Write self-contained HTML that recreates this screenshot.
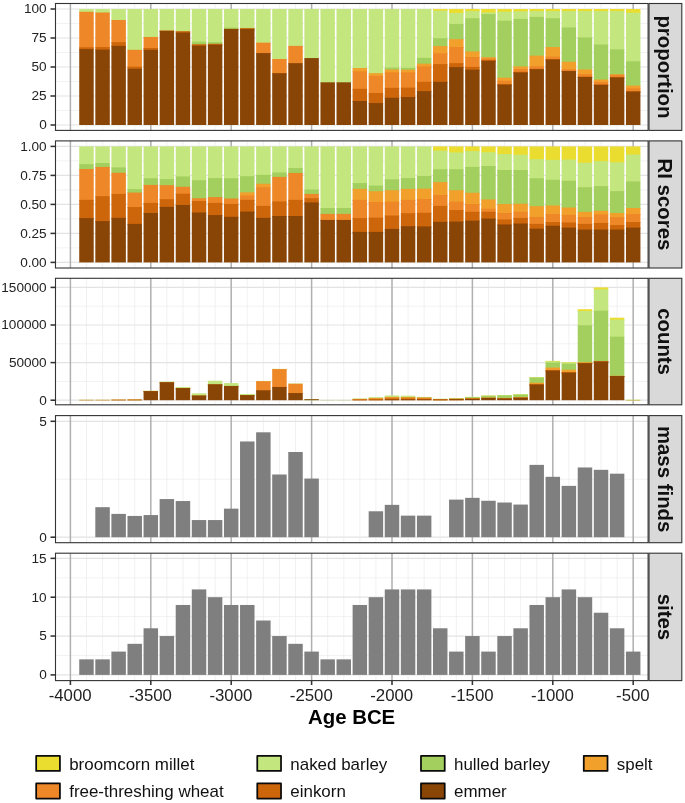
<!DOCTYPE html>
<html><head><meta charset="utf-8"><title>chart</title>
<style>html,body{margin:0;padding:0;background:#fff}body{width:685px;height:803px;overflow:hidden;position:relative}svg{position:absolute;left:0;top:0;will-change:transform;opacity:0.999}</style></head>
<body>
<svg width="685" height="803" viewBox="0 0 685 803" style="display:block;font-family:'Liberation Sans',sans-serif">
<rect width="685" height="803" fill="#fff"/>
<g><path d="M55.5 110.5H648.1" stroke="#EDEDED" stroke-width="0.7"/><path d="M55.5 81.5H648.1" stroke="#EDEDED" stroke-width="0.7"/><path d="M55.5 52.5H648.1" stroke="#EDEDED" stroke-width="0.7"/><path d="M55.5 23.5H648.1" stroke="#EDEDED" stroke-width="0.7"/><path d="M86.48 3.5V130.4" stroke="#EBEBEB" stroke-width="0.7"/><path d="M102.56 3.5V130.4" stroke="#EBEBEB" stroke-width="0.7"/><path d="M118.64 3.5V130.4" stroke="#EBEBEB" stroke-width="0.7"/><path d="M134.72 3.5V130.4" stroke="#EBEBEB" stroke-width="0.7"/><path d="M150.8 3.5V130.4" stroke="#EBEBEB" stroke-width="0.7"/><path d="M166.88 3.5V130.4" stroke="#EBEBEB" stroke-width="0.7"/><path d="M182.96 3.5V130.4" stroke="#EBEBEB" stroke-width="0.7"/><path d="M199.04 3.5V130.4" stroke="#EBEBEB" stroke-width="0.7"/><path d="M215.12 3.5V130.4" stroke="#EBEBEB" stroke-width="0.7"/><path d="M231.2 3.5V130.4" stroke="#EBEBEB" stroke-width="0.7"/><path d="M247.28 3.5V130.4" stroke="#EBEBEB" stroke-width="0.7"/><path d="M263.36 3.5V130.4" stroke="#EBEBEB" stroke-width="0.7"/><path d="M279.44 3.5V130.4" stroke="#EBEBEB" stroke-width="0.7"/><path d="M295.52 3.5V130.4" stroke="#EBEBEB" stroke-width="0.7"/><path d="M311.6 3.5V130.4" stroke="#EBEBEB" stroke-width="0.7"/><path d="M327.68 3.5V130.4" stroke="#EBEBEB" stroke-width="0.7"/><path d="M343.76 3.5V130.4" stroke="#EBEBEB" stroke-width="0.7"/><path d="M359.84 3.5V130.4" stroke="#EBEBEB" stroke-width="0.7"/><path d="M375.92 3.5V130.4" stroke="#EBEBEB" stroke-width="0.7"/><path d="M392 3.5V130.4" stroke="#EBEBEB" stroke-width="0.7"/><path d="M408.08 3.5V130.4" stroke="#EBEBEB" stroke-width="0.7"/><path d="M424.16 3.5V130.4" stroke="#EBEBEB" stroke-width="0.7"/><path d="M440.24 3.5V130.4" stroke="#EBEBEB" stroke-width="0.7"/><path d="M456.32 3.5V130.4" stroke="#EBEBEB" stroke-width="0.7"/><path d="M472.4 3.5V130.4" stroke="#EBEBEB" stroke-width="0.7"/><path d="M488.48 3.5V130.4" stroke="#EBEBEB" stroke-width="0.7"/><path d="M504.56 3.5V130.4" stroke="#EBEBEB" stroke-width="0.7"/><path d="M520.64 3.5V130.4" stroke="#EBEBEB" stroke-width="0.7"/><path d="M536.72 3.5V130.4" stroke="#EBEBEB" stroke-width="0.7"/><path d="M552.8 3.5V130.4" stroke="#EBEBEB" stroke-width="0.7"/><path d="M568.88 3.5V130.4" stroke="#EBEBEB" stroke-width="0.7"/><path d="M584.96 3.5V130.4" stroke="#EBEBEB" stroke-width="0.7"/><path d="M601.04 3.5V130.4" stroke="#EBEBEB" stroke-width="0.7"/><path d="M617.12 3.5V130.4" stroke="#EBEBEB" stroke-width="0.7"/><path d="M633.2 3.5V130.4" stroke="#EBEBEB" stroke-width="0.7"/><path d="M55.5 125H648.1" stroke="#E3E3E3" stroke-width="1.2"/><path d="M55.5 96H648.1" stroke="#E3E3E3" stroke-width="1.2"/><path d="M55.5 67H648.1" stroke="#E3E3E3" stroke-width="1.2"/><path d="M55.5 38H648.1" stroke="#E3E3E3" stroke-width="1.2"/><path d="M55.5 9H648.1" stroke="#E3E3E3" stroke-width="1.2"/><path d="M70.4 3.5V130.4" stroke="#B0B0B0" stroke-width="1.5"/><path d="M150.8 3.5V130.4" stroke="#B0B0B0" stroke-width="1.5"/><path d="M231.2 3.5V130.4" stroke="#B0B0B0" stroke-width="1.5"/><path d="M311.6 3.5V130.4" stroke="#B0B0B0" stroke-width="1.5"/><path d="M392 3.5V130.4" stroke="#B0B0B0" stroke-width="1.5"/><path d="M472.4 3.5V130.4" stroke="#B0B0B0" stroke-width="1.5"/><path d="M552.8 3.5V130.4" stroke="#B0B0B0" stroke-width="1.5"/><path d="M633.2 3.5V130.4" stroke="#B0B0B0" stroke-width="1.5"/></g>
<g shape-rendering="auto"><rect x="79.24" y="9" width="14.47" height="3.78" fill="#C4E67E"/><rect x="79.24" y="11.78" width="14.47" height="36.5" fill="#EE8727"/><rect x="79.24" y="47.28" width="14.47" height="2.86" fill="#CD660B"/><rect x="79.24" y="49.14" width="14.47" height="75.86" fill="#894506"/><rect x="95.32" y="9" width="14.47" height="4.48" fill="#C4E67E"/><rect x="95.32" y="12.48" width="14.47" height="35.57" fill="#EE8727"/><rect x="95.32" y="47.05" width="14.47" height="3.55" fill="#CD660B"/><rect x="95.32" y="49.6" width="14.47" height="75.4" fill="#894506"/><rect x="111.4" y="9" width="14.47" height="12.02" fill="#C4E67E"/><rect x="111.4" y="20.02" width="14.47" height="23.16" fill="#EE8727"/><rect x="111.4" y="42.18" width="14.47" height="4.71" fill="#CD660B"/><rect x="111.4" y="45.89" width="14.47" height="79.11" fill="#894506"/><rect x="127.48" y="9" width="14.47" height="41.83" fill="#C4E67E"/><rect x="127.48" y="49.83" width="14.47" height="17.82" fill="#EE8727"/><rect x="127.48" y="66.65" width="14.47" height="3.09" fill="#CD660B"/><rect x="127.48" y="68.74" width="14.47" height="56.26" fill="#894506"/><rect x="143.56" y="9" width="14.47" height="28.96" fill="#C4E67E"/><rect x="143.56" y="36.96" width="14.47" height="12.02" fill="#EE8727"/><rect x="143.56" y="47.98" width="14.47" height="2.86" fill="#CD660B"/><rect x="143.56" y="49.83" width="14.47" height="75.17" fill="#894506"/><rect x="159.64" y="9" width="14.47" height="22.46" fill="#C4E67E"/><rect x="159.64" y="30.46" width="14.47" height="1.46" fill="#CD660B"/><rect x="159.64" y="30.92" width="14.47" height="94.08" fill="#894506"/><rect x="175.72" y="9" width="14.47" height="23.16" fill="#C4E67E"/><rect x="175.72" y="31.16" width="14.47" height="2.39" fill="#CD660B"/><rect x="175.72" y="32.55" width="14.47" height="92.45" fill="#894506"/><rect x="191.8" y="9" width="14.47" height="33.71" fill="#C4E67E"/><rect x="191.8" y="41.71" width="14.47" height="3.55" fill="#A2CF5E"/><rect x="191.8" y="44.26" width="14.47" height="2.39" fill="#CD660B"/><rect x="191.8" y="45.66" width="14.47" height="79.34" fill="#894506"/><rect x="207.88" y="9" width="14.47" height="34.18" fill="#C4E67E"/><rect x="207.88" y="42.18" width="14.47" height="2.62" fill="#A2CF5E"/><rect x="207.88" y="43.8" width="14.47" height="1.93" fill="#CD660B"/><rect x="207.88" y="44.73" width="14.47" height="80.27" fill="#894506"/><rect x="223.96" y="9" width="14.47" height="19.68" fill="#C4E67E"/><rect x="223.96" y="27.68" width="14.47" height="2.16" fill="#A2CF5E"/><rect x="223.96" y="28.84" width="14.47" height="1.23" fill="#CD660B"/><rect x="223.96" y="29.07" width="14.47" height="95.93" fill="#894506"/><rect x="240.04" y="9" width="14.47" height="19.91" fill="#C4E67E"/><rect x="240.04" y="27.91" width="14.47" height="1.23" fill="#A2CF5E"/><rect x="240.04" y="28.14" width="14.47" height="1.93" fill="#CD660B"/><rect x="240.04" y="29.07" width="14.47" height="95.93" fill="#894506"/><rect x="256.12" y="9" width="14.47" height="34.64" fill="#C4E67E"/><rect x="256.12" y="42.64" width="14.47" height="11.44" fill="#EE8727"/><rect x="256.12" y="53.08" width="14.47" height="71.92" fill="#894506"/><rect x="272.2" y="9" width="14.47" height="51" fill="#C4E67E"/><rect x="272.2" y="59" width="14.47" height="15.15" fill="#EE8727"/><rect x="272.2" y="73.15" width="14.47" height="51.85" fill="#894506"/><rect x="288.28" y="9" width="14.47" height="37.89" fill="#C4E67E"/><rect x="288.28" y="45.89" width="14.47" height="18.28" fill="#EE8727"/><rect x="288.28" y="63.17" width="14.47" height="61.83" fill="#894506"/><rect x="304.36" y="9" width="14.47" height="50.07" fill="#C4E67E"/><rect x="304.36" y="58.07" width="14.47" height="66.93" fill="#894506"/><rect x="320.44" y="9" width="14.47" height="74.31" fill="#C4E67E"/><rect x="320.44" y="82.31" width="14.47" height="42.69" fill="#894506"/><rect x="336.52" y="9" width="14.47" height="74.31" fill="#C4E67E"/><rect x="336.52" y="82.31" width="14.47" height="42.69" fill="#894506"/><rect x="352.6" y="9" width="14.47" height="60.04" fill="#C4E67E"/><rect x="352.6" y="68.04" width="14.47" height="4.25" fill="#F2A02C"/><rect x="352.6" y="71.29" width="14.47" height="18.52" fill="#EE8727"/><rect x="352.6" y="88.81" width="14.47" height="13.18" fill="#CD660B"/><rect x="352.6" y="100.99" width="14.47" height="24.01" fill="#894506"/><rect x="368.68" y="9" width="14.47" height="65.15" fill="#C4E67E"/><rect x="368.68" y="73.15" width="14.47" height="3.78" fill="#F2A02C"/><rect x="368.68" y="75.93" width="14.47" height="18.05" fill="#EE8727"/><rect x="368.68" y="92.98" width="14.47" height="11.09" fill="#CD660B"/><rect x="368.68" y="103.08" width="14.47" height="21.92" fill="#894506"/><rect x="384.76" y="9" width="14.47" height="59.58" fill="#C4E67E"/><rect x="384.76" y="67.58" width="14.47" height="2.86" fill="#A2CF5E"/><rect x="384.76" y="69.44" width="14.47" height="4.02" fill="#F2A02C"/><rect x="384.76" y="72.45" width="14.47" height="16.43" fill="#EE8727"/><rect x="384.76" y="87.88" width="14.47" height="10.86" fill="#CD660B"/><rect x="384.76" y="97.74" width="14.47" height="27.26" fill="#894506"/><rect x="400.84" y="9" width="14.47" height="59.81" fill="#C4E67E"/><rect x="400.84" y="67.81" width="14.47" height="2.86" fill="#A2CF5E"/><rect x="400.84" y="69.67" width="14.47" height="3.78" fill="#F2A02C"/><rect x="400.84" y="72.45" width="14.47" height="16.2" fill="#EE8727"/><rect x="400.84" y="87.65" width="14.47" height="10.4" fill="#CD660B"/><rect x="400.84" y="97.04" width="14.47" height="27.96" fill="#894506"/><rect x="416.92" y="9" width="14.47" height="49.84" fill="#C4E67E"/><rect x="416.92" y="57.84" width="14.47" height="6.8" fill="#A2CF5E"/><rect x="416.92" y="63.64" width="14.47" height="3.78" fill="#F2A02C"/><rect x="416.92" y="66.42" width="14.47" height="16.43" fill="#EE8727"/><rect x="416.92" y="81.85" width="14.47" height="10.28" fill="#CD660B"/><rect x="416.92" y="91.13" width="14.47" height="33.87" fill="#894506"/><rect x="433" y="9" width="14.47" height="2.62" fill="#EBDD30"/><rect x="433" y="10.62" width="14.47" height="28.61" fill="#C4E67E"/><rect x="433" y="38.23" width="14.47" height="8.89" fill="#A2CF5E"/><rect x="433" y="46.12" width="14.47" height="8.19" fill="#F2A02C"/><rect x="433" y="53.31" width="14.47" height="11.79" fill="#EE8727"/><rect x="433" y="64.1" width="14.47" height="18.75" fill="#CD660B"/><rect x="433" y="81.85" width="14.47" height="43.15" fill="#894506"/><rect x="449.08" y="9" width="14.47" height="4.94" fill="#EBDD30"/><rect x="449.08" y="12.94" width="14.47" height="12.02" fill="#C4E67E"/><rect x="449.08" y="23.96" width="14.47" height="16.2" fill="#A2CF5E"/><rect x="449.08" y="39.16" width="14.47" height="8.89" fill="#F2A02C"/><rect x="449.08" y="47.05" width="14.47" height="17.12" fill="#EE8727"/><rect x="449.08" y="63.17" width="14.47" height="4.94" fill="#CD660B"/><rect x="449.08" y="67.12" width="14.47" height="57.88" fill="#894506"/><rect x="465.16" y="9" width="14.47" height="3.09" fill="#EBDD30"/><rect x="465.16" y="11.09" width="14.47" height="8.19" fill="#C4E67E"/><rect x="465.16" y="18.28" width="14.47" height="34.18" fill="#A2CF5E"/><rect x="465.16" y="51.46" width="14.47" height="6.57" fill="#F2A02C"/><rect x="465.16" y="57.02" width="14.47" height="10.86" fill="#EE8727"/><rect x="465.16" y="66.88" width="14.47" height="3.78" fill="#CD660B"/><rect x="465.16" y="69.67" width="14.47" height="55.33" fill="#894506"/><rect x="481.24" y="9" width="14.47" height="4.48" fill="#EBDD30"/><rect x="481.24" y="12.48" width="14.47" height="2.62" fill="#C4E67E"/><rect x="481.24" y="14.1" width="14.47" height="44.15" fill="#A2CF5E"/><rect x="481.24" y="57.26" width="14.47" height="2.28" fill="#F2A02C"/><rect x="481.24" y="58.53" width="14.47" height="2.39" fill="#EE8727"/><rect x="481.24" y="59.92" width="14.47" height="1.93" fill="#CD660B"/><rect x="481.24" y="60.85" width="14.47" height="64.15" fill="#894506"/><rect x="497.32" y="9" width="14.47" height="3.78" fill="#EBDD30"/><rect x="497.32" y="11.78" width="14.47" height="9.93" fill="#C4E67E"/><rect x="497.32" y="20.72" width="14.47" height="57.96" fill="#A2CF5E"/><rect x="497.32" y="77.67" width="14.47" height="4.02" fill="#F2A02C"/><rect x="497.32" y="80.69" width="14.47" height="4.25" fill="#EE8727"/><rect x="497.32" y="83.94" width="14.47" height="1.7" fill="#CD660B"/><rect x="497.32" y="84.63" width="14.47" height="40.37" fill="#894506"/><rect x="513.4" y="9" width="14.47" height="3.32" fill="#EBDD30"/><rect x="513.4" y="11.32" width="14.47" height="8.54" fill="#C4E67E"/><rect x="513.4" y="18.86" width="14.47" height="48.56" fill="#A2CF5E"/><rect x="513.4" y="66.42" width="14.47" height="3.55" fill="#F2A02C"/><rect x="513.4" y="68.97" width="14.47" height="3.78" fill="#EE8727"/><rect x="513.4" y="71.76" width="14.47" height="1.7" fill="#CD660B"/><rect x="513.4" y="72.45" width="14.47" height="52.55" fill="#894506"/><rect x="529.48" y="9" width="14.47" height="3.09" fill="#EBDD30"/><rect x="529.48" y="11.09" width="14.47" height="6.8" fill="#C4E67E"/><rect x="529.48" y="16.89" width="14.47" height="39.74" fill="#A2CF5E"/><rect x="529.48" y="55.63" width="14.47" height="11.56" fill="#F2A02C"/><rect x="529.48" y="66.19" width="14.47" height="3.55" fill="#EE8727"/><rect x="529.48" y="68.74" width="14.47" height="1.46" fill="#CD660B"/><rect x="529.48" y="69.2" width="14.47" height="55.8" fill="#894506"/><rect x="545.56" y="9" width="14.47" height="3.09" fill="#EBDD30"/><rect x="545.56" y="11.09" width="14.47" height="8.19" fill="#C4E67E"/><rect x="545.56" y="18.28" width="14.47" height="29.77" fill="#A2CF5E"/><rect x="545.56" y="47.05" width="14.47" height="10.51" fill="#F2A02C"/><rect x="545.56" y="56.56" width="14.47" height="3.44" fill="#EE8727"/><rect x="545.56" y="59" width="14.47" height="1.46" fill="#CD660B"/><rect x="545.56" y="59.46" width="14.47" height="65.54" fill="#894506"/><rect x="561.64" y="9" width="14.47" height="3.09" fill="#EBDD30"/><rect x="561.64" y="11.09" width="14.47" height="17.36" fill="#C4E67E"/><rect x="561.64" y="27.44" width="14.47" height="35.34" fill="#A2CF5E"/><rect x="561.64" y="61.78" width="14.47" height="8.42" fill="#F2A02C"/><rect x="561.64" y="69.2" width="14.47" height="2.62" fill="#EE8727"/><rect x="561.64" y="70.83" width="14.47" height="1.23" fill="#CD660B"/><rect x="561.64" y="71.06" width="14.47" height="53.94" fill="#894506"/><rect x="577.72" y="9" width="14.47" height="3.09" fill="#EBDD30"/><rect x="577.72" y="11.09" width="14.47" height="27.33" fill="#C4E67E"/><rect x="577.72" y="37.42" width="14.47" height="33.02" fill="#A2CF5E"/><rect x="577.72" y="69.44" width="14.47" height="5.64" fill="#F2A02C"/><rect x="577.72" y="74.08" width="14.47" height="3.44" fill="#EE8727"/><rect x="577.72" y="76.51" width="14.47" height="1.46" fill="#CD660B"/><rect x="577.72" y="76.98" width="14.47" height="48.02" fill="#894506"/><rect x="593.8" y="9" width="14.47" height="3.09" fill="#EBDD30"/><rect x="593.8" y="11.09" width="14.47" height="34.41" fill="#C4E67E"/><rect x="593.8" y="44.5" width="14.47" height="36.03" fill="#A2CF5E"/><rect x="593.8" y="79.53" width="14.47" height="3.32" fill="#F2A02C"/><rect x="593.8" y="81.85" width="14.47" height="3.55" fill="#EE8727"/><rect x="593.8" y="84.4" width="14.47" height="1.46" fill="#CD660B"/><rect x="593.8" y="84.86" width="14.47" height="40.14" fill="#894506"/><rect x="609.88" y="9" width="14.47" height="3.09" fill="#EBDD30"/><rect x="609.88" y="11.09" width="14.47" height="39.28" fill="#C4E67E"/><rect x="609.88" y="49.37" width="14.47" height="25.94" fill="#A2CF5E"/><rect x="609.88" y="74.31" width="14.47" height="1.46" fill="#F2A02C"/><rect x="609.88" y="74.77" width="14.47" height="3.2" fill="#EE8727"/><rect x="609.88" y="76.98" width="14.47" height="1.46" fill="#CD660B"/><rect x="609.88" y="77.44" width="14.47" height="47.56" fill="#894506"/><rect x="625.96" y="9" width="14.47" height="4.71" fill="#EBDD30"/><rect x="625.96" y="12.71" width="14.47" height="49.6" fill="#C4E67E"/><rect x="625.96" y="61.32" width="14.47" height="25.24" fill="#A2CF5E"/><rect x="625.96" y="85.56" width="14.47" height="3.78" fill="#F2A02C"/><rect x="625.96" y="88.34" width="14.47" height="3.78" fill="#EE8727"/><rect x="625.96" y="91.13" width="14.47" height="1.46" fill="#CD660B"/><rect x="625.96" y="91.59" width="14.47" height="33.41" fill="#894506"/></g>
<rect x="55.5" y="3.5" width="592.6" height="126.9" fill="none" stroke="#333" stroke-width="1.1"/>
<path d="M50.5 125H55.5" stroke="#333" stroke-width="1.55"/>
<text x="46.7" y="129.3" font-size="13.6" fill="#222" text-anchor="end">0</text>
<path d="M50.5 96H55.5" stroke="#333" stroke-width="1.55"/>
<text x="46.7" y="100.3" font-size="13.6" fill="#222" text-anchor="end">25</text>
<path d="M50.5 67H55.5" stroke="#333" stroke-width="1.55"/>
<text x="46.7" y="71.3" font-size="13.6" fill="#222" text-anchor="end">50</text>
<path d="M50.5 38H55.5" stroke="#333" stroke-width="1.55"/>
<text x="46.7" y="42.3" font-size="13.6" fill="#222" text-anchor="end">75</text>
<path d="M50.5 9H55.5" stroke="#333" stroke-width="1.55"/>
<text x="46.7" y="13.3" font-size="13.6" fill="#222" text-anchor="end">100</text>
<rect x="649" y="3.5" width="32.8" height="126.9" fill="#D9D9D9" stroke="#333" stroke-width="1.1"/>
<text transform="translate(658.0 66.95) rotate(90)" font-size="20.4" font-weight="bold" fill="#111" text-anchor="middle">proportion</text>
<g><path d="M55.5 247.9H648.1" stroke="#EDEDED" stroke-width="0.7"/><path d="M55.5 218.9H648.1" stroke="#EDEDED" stroke-width="0.7"/><path d="M55.5 189.9H648.1" stroke="#EDEDED" stroke-width="0.7"/><path d="M55.5 160.9H648.1" stroke="#EDEDED" stroke-width="0.7"/><path d="M86.48 140.9V268" stroke="#EBEBEB" stroke-width="0.7"/><path d="M102.56 140.9V268" stroke="#EBEBEB" stroke-width="0.7"/><path d="M118.64 140.9V268" stroke="#EBEBEB" stroke-width="0.7"/><path d="M134.72 140.9V268" stroke="#EBEBEB" stroke-width="0.7"/><path d="M150.8 140.9V268" stroke="#EBEBEB" stroke-width="0.7"/><path d="M166.88 140.9V268" stroke="#EBEBEB" stroke-width="0.7"/><path d="M182.96 140.9V268" stroke="#EBEBEB" stroke-width="0.7"/><path d="M199.04 140.9V268" stroke="#EBEBEB" stroke-width="0.7"/><path d="M215.12 140.9V268" stroke="#EBEBEB" stroke-width="0.7"/><path d="M231.2 140.9V268" stroke="#EBEBEB" stroke-width="0.7"/><path d="M247.28 140.9V268" stroke="#EBEBEB" stroke-width="0.7"/><path d="M263.36 140.9V268" stroke="#EBEBEB" stroke-width="0.7"/><path d="M279.44 140.9V268" stroke="#EBEBEB" stroke-width="0.7"/><path d="M295.52 140.9V268" stroke="#EBEBEB" stroke-width="0.7"/><path d="M311.6 140.9V268" stroke="#EBEBEB" stroke-width="0.7"/><path d="M327.68 140.9V268" stroke="#EBEBEB" stroke-width="0.7"/><path d="M343.76 140.9V268" stroke="#EBEBEB" stroke-width="0.7"/><path d="M359.84 140.9V268" stroke="#EBEBEB" stroke-width="0.7"/><path d="M375.92 140.9V268" stroke="#EBEBEB" stroke-width="0.7"/><path d="M392 140.9V268" stroke="#EBEBEB" stroke-width="0.7"/><path d="M408.08 140.9V268" stroke="#EBEBEB" stroke-width="0.7"/><path d="M424.16 140.9V268" stroke="#EBEBEB" stroke-width="0.7"/><path d="M440.24 140.9V268" stroke="#EBEBEB" stroke-width="0.7"/><path d="M456.32 140.9V268" stroke="#EBEBEB" stroke-width="0.7"/><path d="M472.4 140.9V268" stroke="#EBEBEB" stroke-width="0.7"/><path d="M488.48 140.9V268" stroke="#EBEBEB" stroke-width="0.7"/><path d="M504.56 140.9V268" stroke="#EBEBEB" stroke-width="0.7"/><path d="M520.64 140.9V268" stroke="#EBEBEB" stroke-width="0.7"/><path d="M536.72 140.9V268" stroke="#EBEBEB" stroke-width="0.7"/><path d="M552.8 140.9V268" stroke="#EBEBEB" stroke-width="0.7"/><path d="M568.88 140.9V268" stroke="#EBEBEB" stroke-width="0.7"/><path d="M584.96 140.9V268" stroke="#EBEBEB" stroke-width="0.7"/><path d="M601.04 140.9V268" stroke="#EBEBEB" stroke-width="0.7"/><path d="M617.12 140.9V268" stroke="#EBEBEB" stroke-width="0.7"/><path d="M633.2 140.9V268" stroke="#EBEBEB" stroke-width="0.7"/><path d="M55.5 262.4H648.1" stroke="#E3E3E3" stroke-width="1.2"/><path d="M55.5 233.4H648.1" stroke="#E3E3E3" stroke-width="1.2"/><path d="M55.5 204.4H648.1" stroke="#E3E3E3" stroke-width="1.2"/><path d="M55.5 175.4H648.1" stroke="#E3E3E3" stroke-width="1.2"/><path d="M55.5 146.4H648.1" stroke="#E3E3E3" stroke-width="1.2"/><path d="M70.4 140.9V268" stroke="#B0B0B0" stroke-width="1.5"/><path d="M150.8 140.9V268" stroke="#B0B0B0" stroke-width="1.5"/><path d="M231.2 140.9V268" stroke="#B0B0B0" stroke-width="1.5"/><path d="M311.6 140.9V268" stroke="#B0B0B0" stroke-width="1.5"/><path d="M392 140.9V268" stroke="#B0B0B0" stroke-width="1.5"/><path d="M472.4 140.9V268" stroke="#B0B0B0" stroke-width="1.5"/><path d="M552.8 140.9V268" stroke="#B0B0B0" stroke-width="1.5"/><path d="M633.2 140.9V268" stroke="#B0B0B0" stroke-width="1.5"/></g>
<g shape-rendering="auto"><rect x="79.24" y="146.4" width="14.47" height="18.75" fill="#C4E67E"/><rect x="79.24" y="164.15" width="14.47" height="5.87" fill="#A2CF5E"/><rect x="79.24" y="169.02" width="14.47" height="31.86" fill="#EE8727"/><rect x="79.24" y="199.88" width="14.47" height="19.21" fill="#CD660B"/><rect x="79.24" y="218.09" width="14.47" height="44.31" fill="#894506"/><rect x="95.32" y="146.4" width="14.47" height="17.59" fill="#C4E67E"/><rect x="95.32" y="162.99" width="14.47" height="4.94" fill="#A2CF5E"/><rect x="95.32" y="166.93" width="14.47" height="30.23" fill="#EE8727"/><rect x="95.32" y="196.16" width="14.47" height="25.94" fill="#CD660B"/><rect x="95.32" y="221.1" width="14.47" height="41.3" fill="#894506"/><rect x="111.4" y="146.4" width="14.47" height="22" fill="#C4E67E"/><rect x="111.4" y="167.4" width="14.47" height="6.34" fill="#A2CF5E"/><rect x="111.4" y="172.73" width="14.47" height="22.23" fill="#EE8727"/><rect x="111.4" y="193.96" width="14.47" height="24.9" fill="#CD660B"/><rect x="111.4" y="217.86" width="14.47" height="44.54" fill="#894506"/><rect x="127.48" y="146.4" width="14.47" height="43.69" fill="#C4E67E"/><rect x="127.48" y="189.09" width="14.47" height="4.48" fill="#A2CF5E"/><rect x="127.48" y="192.57" width="14.47" height="15.5" fill="#EE8727"/><rect x="127.48" y="207.07" width="14.47" height="17.82" fill="#CD660B"/><rect x="127.48" y="223.89" width="14.47" height="38.51" fill="#894506"/><rect x="143.56" y="146.4" width="14.47" height="32.9" fill="#C4E67E"/><rect x="143.56" y="178.3" width="14.47" height="7.61" fill="#A2CF5E"/><rect x="143.56" y="184.91" width="14.47" height="18.98" fill="#EE8727"/><rect x="143.56" y="202.89" width="14.47" height="11.09" fill="#CD660B"/><rect x="143.56" y="212.98" width="14.47" height="49.42" fill="#894506"/><rect x="159.64" y="146.4" width="14.47" height="33.71" fill="#C4E67E"/><rect x="159.64" y="179.11" width="14.47" height="7.03" fill="#A2CF5E"/><rect x="159.64" y="185.14" width="14.47" height="15.04" fill="#EE8727"/><rect x="159.64" y="199.18" width="14.47" height="8.66" fill="#CD660B"/><rect x="159.64" y="206.84" width="14.47" height="55.56" fill="#894506"/><rect x="175.72" y="146.4" width="14.47" height="31.04" fill="#C4E67E"/><rect x="175.72" y="176.44" width="14.47" height="11.32" fill="#A2CF5E"/><rect x="175.72" y="186.77" width="14.47" height="7.96" fill="#EE8727"/><rect x="175.72" y="193.73" width="14.47" height="12.25" fill="#CD660B"/><rect x="175.72" y="204.98" width="14.47" height="57.42" fill="#894506"/><rect x="191.8" y="146.4" width="14.47" height="34.87" fill="#C4E67E"/><rect x="191.8" y="180.27" width="14.47" height="18.98" fill="#A2CF5E"/><rect x="191.8" y="198.25" width="14.47" height="3.78" fill="#EE8727"/><rect x="191.8" y="201.04" width="14.47" height="12.48" fill="#CD660B"/><rect x="191.8" y="212.52" width="14.47" height="49.88" fill="#894506"/><rect x="207.88" y="146.4" width="14.47" height="32.67" fill="#C4E67E"/><rect x="207.88" y="178.07" width="14.47" height="20.02" fill="#A2CF5E"/><rect x="207.88" y="197.09" width="14.47" height="6.8" fill="#EE8727"/><rect x="207.88" y="202.89" width="14.47" height="13.18" fill="#CD660B"/><rect x="207.88" y="215.07" width="14.47" height="47.33" fill="#894506"/><rect x="223.96" y="146.4" width="14.47" height="32.9" fill="#C4E67E"/><rect x="223.96" y="178.3" width="14.47" height="21.18" fill="#A2CF5E"/><rect x="223.96" y="198.48" width="14.47" height="6.45" fill="#EE8727"/><rect x="223.96" y="203.94" width="14.47" height="13.88" fill="#CD660B"/><rect x="223.96" y="216.81" width="14.47" height="45.59" fill="#894506"/><rect x="240.04" y="146.4" width="14.47" height="30.81" fill="#C4E67E"/><rect x="240.04" y="176.21" width="14.47" height="17.12" fill="#A2CF5E"/><rect x="240.04" y="192.34" width="14.47" height="4.13" fill="#F2A02C"/><rect x="240.04" y="195.47" width="14.47" height="5.41" fill="#EE8727"/><rect x="240.04" y="199.88" width="14.47" height="12.72" fill="#CD660B"/><rect x="240.04" y="211.59" width="14.47" height="50.81" fill="#894506"/><rect x="256.12" y="146.4" width="14.47" height="29.42" fill="#C4E67E"/><rect x="256.12" y="174.82" width="14.47" height="9.93" fill="#A2CF5E"/><rect x="256.12" y="183.75" width="14.47" height="4.48" fill="#F2A02C"/><rect x="256.12" y="187.23" width="14.47" height="19.68" fill="#EE8727"/><rect x="256.12" y="205.91" width="14.47" height="12.95" fill="#CD660B"/><rect x="256.12" y="217.86" width="14.47" height="44.54" fill="#894506"/><rect x="272.2" y="146.4" width="14.47" height="27.1" fill="#C4E67E"/><rect x="272.2" y="172.5" width="14.47" height="5.41" fill="#A2CF5E"/><rect x="272.2" y="176.91" width="14.47" height="25.59" fill="#EE8727"/><rect x="272.2" y="201.5" width="14.47" height="15.5" fill="#CD660B"/><rect x="272.2" y="216" width="14.47" height="46.4" fill="#894506"/><rect x="288.28" y="146.4" width="14.47" height="22.69" fill="#C4E67E"/><rect x="288.28" y="168.09" width="14.47" height="5.87" fill="#A2CF5E"/><rect x="288.28" y="172.96" width="14.47" height="27.91" fill="#EE8727"/><rect x="288.28" y="199.88" width="14.47" height="17.12" fill="#CD660B"/><rect x="288.28" y="216" width="14.47" height="46.4" fill="#894506"/><rect x="304.36" y="146.4" width="14.47" height="44.15" fill="#C4E67E"/><rect x="304.36" y="189.55" width="14.47" height="5.41" fill="#A2CF5E"/><rect x="304.36" y="193.96" width="14.47" height="5.29" fill="#EE8727"/><rect x="304.36" y="198.25" width="14.47" height="5.18" fill="#CD660B"/><rect x="304.36" y="202.43" width="14.47" height="59.97" fill="#894506"/><rect x="320.44" y="146.4" width="14.47" height="62.6" fill="#C4E67E"/><rect x="320.44" y="208" width="14.47" height="6.92" fill="#A2CF5E"/><rect x="320.44" y="213.91" width="14.47" height="7.03" fill="#EE8727"/><rect x="320.44" y="219.94" width="14.47" height="42.46" fill="#894506"/><rect x="336.52" y="146.4" width="14.47" height="62.6" fill="#C4E67E"/><rect x="336.52" y="208" width="14.47" height="6.92" fill="#A2CF5E"/><rect x="336.52" y="213.91" width="14.47" height="7.03" fill="#EE8727"/><rect x="336.52" y="219.94" width="14.47" height="42.46" fill="#894506"/><rect x="352.6" y="146.4" width="14.47" height="37.66" fill="#C4E67E"/><rect x="352.6" y="183.06" width="14.47" height="6.8" fill="#A2CF5E"/><rect x="352.6" y="188.86" width="14.47" height="12.02" fill="#F2A02C"/><rect x="352.6" y="199.88" width="14.47" height="19.21" fill="#EE8727"/><rect x="352.6" y="218.09" width="14.47" height="14.8" fill="#CD660B"/><rect x="352.6" y="231.89" width="14.47" height="30.51" fill="#894506"/><rect x="368.68" y="146.4" width="14.47" height="40.21" fill="#C4E67E"/><rect x="368.68" y="185.61" width="14.47" height="6.57" fill="#A2CF5E"/><rect x="368.68" y="191.18" width="14.47" height="11.79" fill="#F2A02C"/><rect x="368.68" y="201.96" width="14.47" height="16.66" fill="#EE8727"/><rect x="368.68" y="217.62" width="14.47" height="15.27" fill="#CD660B"/><rect x="368.68" y="231.89" width="14.47" height="30.51" fill="#894506"/><rect x="384.76" y="146.4" width="14.47" height="33.94" fill="#C4E67E"/><rect x="384.76" y="179.34" width="14.47" height="11.9" fill="#A2CF5E"/><rect x="384.76" y="190.25" width="14.47" height="12.48" fill="#F2A02C"/><rect x="384.76" y="201.73" width="14.47" height="14.8" fill="#EE8727"/><rect x="384.76" y="215.54" width="14.47" height="14.34" fill="#CD660B"/><rect x="384.76" y="228.88" width="14.47" height="33.52" fill="#894506"/><rect x="400.84" y="146.4" width="14.47" height="32.67" fill="#C4E67E"/><rect x="400.84" y="178.07" width="14.47" height="11.79" fill="#A2CF5E"/><rect x="400.84" y="188.86" width="14.47" height="12.02" fill="#F2A02C"/><rect x="400.84" y="199.88" width="14.47" height="14.34" fill="#EE8727"/><rect x="400.84" y="213.22" width="14.47" height="13.99" fill="#CD660B"/><rect x="400.84" y="226.21" width="14.47" height="36.19" fill="#894506"/><rect x="416.92" y="146.4" width="14.47" height="30.58" fill="#C4E67E"/><rect x="416.92" y="175.98" width="14.47" height="13.64" fill="#A2CF5E"/><rect x="416.92" y="188.62" width="14.47" height="11.32" fill="#F2A02C"/><rect x="416.92" y="198.95" width="14.47" height="14.8" fill="#EE8727"/><rect x="416.92" y="212.75" width="14.47" height="14.69" fill="#CD660B"/><rect x="416.92" y="226.44" width="14.47" height="35.96" fill="#894506"/><rect x="433" y="146.4" width="14.47" height="5.18" fill="#EBDD30"/><rect x="433" y="150.58" width="14.47" height="19.68" fill="#C4E67E"/><rect x="433" y="169.25" width="14.47" height="13.88" fill="#A2CF5E"/><rect x="433" y="182.13" width="14.47" height="13.88" fill="#F2A02C"/><rect x="433" y="195" width="14.47" height="11.9" fill="#EE8727"/><rect x="433" y="205.91" width="14.47" height="16.89" fill="#CD660B"/><rect x="433" y="221.8" width="14.47" height="40.6" fill="#894506"/><rect x="449.08" y="146.4" width="14.47" height="7.03" fill="#EBDD30"/><rect x="449.08" y="152.43" width="14.47" height="17.82" fill="#C4E67E"/><rect x="449.08" y="169.25" width="14.47" height="22" fill="#A2CF5E"/><rect x="449.08" y="190.25" width="14.47" height="12.48" fill="#F2A02C"/><rect x="449.08" y="201.73" width="14.47" height="9.35" fill="#EE8727"/><rect x="449.08" y="210.08" width="14.47" height="12.48" fill="#CD660B"/><rect x="449.08" y="221.57" width="14.47" height="40.83" fill="#894506"/><rect x="465.16" y="146.4" width="14.47" height="5.64" fill="#EBDD30"/><rect x="465.16" y="151.04" width="14.47" height="16.89" fill="#C4E67E"/><rect x="465.16" y="166.93" width="14.47" height="26.87" fill="#A2CF5E"/><rect x="465.16" y="192.8" width="14.47" height="12.25" fill="#F2A02C"/><rect x="465.16" y="204.05" width="14.47" height="8.77" fill="#EE8727"/><rect x="465.16" y="211.82" width="14.47" height="9.82" fill="#CD660B"/><rect x="465.16" y="220.64" width="14.47" height="41.76" fill="#894506"/><rect x="481.24" y="146.4" width="14.47" height="6.8" fill="#EBDD30"/><rect x="481.24" y="152.2" width="14.47" height="14.8" fill="#C4E67E"/><rect x="481.24" y="166" width="14.47" height="34.41" fill="#A2CF5E"/><rect x="481.24" y="199.41" width="14.47" height="10.28" fill="#F2A02C"/><rect x="481.24" y="208.69" width="14.47" height="4.13" fill="#EE8727"/><rect x="481.24" y="211.82" width="14.47" height="7.73" fill="#CD660B"/><rect x="481.24" y="218.55" width="14.47" height="43.85" fill="#894506"/><rect x="497.32" y="146.4" width="14.47" height="8.66" fill="#EBDD30"/><rect x="497.32" y="154.06" width="14.47" height="16.89" fill="#C4E67E"/><rect x="497.32" y="169.95" width="14.47" height="35.1" fill="#A2CF5E"/><rect x="497.32" y="204.05" width="14.47" height="9.93" fill="#F2A02C"/><rect x="497.32" y="212.98" width="14.47" height="7.5" fill="#EE8727"/><rect x="497.32" y="219.48" width="14.47" height="5.99" fill="#CD660B"/><rect x="497.32" y="224.47" width="14.47" height="37.93" fill="#894506"/><rect x="513.4" y="146.4" width="14.47" height="9.35" fill="#EBDD30"/><rect x="513.4" y="154.75" width="14.47" height="16.31" fill="#C4E67E"/><rect x="513.4" y="170.06" width="14.47" height="34.64" fill="#A2CF5E"/><rect x="513.4" y="203.7" width="14.47" height="9.12" fill="#F2A02C"/><rect x="513.4" y="211.82" width="14.47" height="7.15" fill="#EE8727"/><rect x="513.4" y="217.97" width="14.47" height="6.57" fill="#CD660B"/><rect x="513.4" y="223.54" width="14.47" height="38.86" fill="#894506"/><rect x="529.48" y="146.4" width="14.47" height="13.76" fill="#EBDD30"/><rect x="529.48" y="159.16" width="14.47" height="20.14" fill="#C4E67E"/><rect x="529.48" y="178.3" width="14.47" height="28.84" fill="#A2CF5E"/><rect x="529.48" y="206.14" width="14.47" height="11.79" fill="#F2A02C"/><rect x="529.48" y="216.93" width="14.47" height="7.96" fill="#EE8727"/><rect x="529.48" y="223.89" width="14.47" height="5.76" fill="#CD660B"/><rect x="529.48" y="228.64" width="14.47" height="33.76" fill="#894506"/><rect x="545.56" y="146.4" width="14.47" height="14.46" fill="#EBDD30"/><rect x="545.56" y="159.86" width="14.47" height="20.95" fill="#C4E67E"/><rect x="545.56" y="179.81" width="14.47" height="26.64" fill="#A2CF5E"/><rect x="545.56" y="205.44" width="14.47" height="9.7" fill="#F2A02C"/><rect x="545.56" y="214.14" width="14.47" height="8.89" fill="#EE8727"/><rect x="545.56" y="222.03" width="14.47" height="4.71" fill="#CD660B"/><rect x="545.56" y="225.74" width="14.47" height="36.66" fill="#894506"/><rect x="561.64" y="146.4" width="14.47" height="14.22" fill="#EBDD30"/><rect x="561.64" y="159.62" width="14.47" height="22.11" fill="#C4E67E"/><rect x="561.64" y="180.74" width="14.47" height="27.8" fill="#A2CF5E"/><rect x="561.64" y="207.53" width="14.47" height="8.31" fill="#F2A02C"/><rect x="561.64" y="214.84" width="14.47" height="8.66" fill="#EE8727"/><rect x="561.64" y="222.5" width="14.47" height="6.1" fill="#CD660B"/><rect x="561.64" y="227.6" width="14.47" height="34.8" fill="#894506"/><rect x="577.72" y="146.4" width="14.47" height="17.36" fill="#EBDD30"/><rect x="577.72" y="162.76" width="14.47" height="25.48" fill="#C4E67E"/><rect x="577.72" y="187.23" width="14.47" height="25.59" fill="#A2CF5E"/><rect x="577.72" y="211.82" width="14.47" height="6.1" fill="#F2A02C"/><rect x="577.72" y="216.93" width="14.47" height="7.96" fill="#EE8727"/><rect x="577.72" y="223.89" width="14.47" height="6.68" fill="#CD660B"/><rect x="577.72" y="229.57" width="14.47" height="32.83" fill="#894506"/><rect x="593.8" y="146.4" width="14.47" height="15.73" fill="#EBDD30"/><rect x="593.8" y="161.13" width="14.47" height="25.94" fill="#C4E67E"/><rect x="593.8" y="186.07" width="14.47" height="25.71" fill="#A2CF5E"/><rect x="593.8" y="210.78" width="14.47" height="4.6" fill="#F2A02C"/><rect x="593.8" y="214.38" width="14.47" height="9.58" fill="#EE8727"/><rect x="593.8" y="222.96" width="14.47" height="7.61" fill="#CD660B"/><rect x="593.8" y="229.57" width="14.47" height="32.83" fill="#894506"/><rect x="609.88" y="146.4" width="14.47" height="16.89" fill="#EBDD30"/><rect x="609.88" y="162.29" width="14.47" height="29.88" fill="#C4E67E"/><rect x="609.88" y="191.18" width="14.47" height="22.81" fill="#A2CF5E"/><rect x="609.88" y="212.98" width="14.47" height="5.18" fill="#F2A02C"/><rect x="609.88" y="217.16" width="14.47" height="8.89" fill="#EE8727"/><rect x="609.88" y="225.05" width="14.47" height="5.52" fill="#CD660B"/><rect x="609.88" y="229.57" width="14.47" height="32.83" fill="#894506"/><rect x="625.96" y="146.4" width="14.47" height="9.12" fill="#EBDD30"/><rect x="625.96" y="154.52" width="14.47" height="27.91" fill="#C4E67E"/><rect x="625.96" y="181.43" width="14.47" height="27.56" fill="#A2CF5E"/><rect x="625.96" y="208" width="14.47" height="7.15" fill="#F2A02C"/><rect x="625.96" y="214.14" width="14.47" height="8.89" fill="#EE8727"/><rect x="625.96" y="222.03" width="14.47" height="6.57" fill="#CD660B"/><rect x="625.96" y="227.6" width="14.47" height="34.8" fill="#894506"/></g>
<rect x="55.5" y="140.9" width="592.6" height="127.1" fill="none" stroke="#333" stroke-width="1.1"/>
<path d="M50.5 262.4H55.5" stroke="#333" stroke-width="1.55"/>
<text x="46.7" y="266.7" font-size="13.6" fill="#222" text-anchor="end">0.00</text>
<path d="M50.5 233.4H55.5" stroke="#333" stroke-width="1.55"/>
<text x="46.7" y="237.7" font-size="13.6" fill="#222" text-anchor="end">0.25</text>
<path d="M50.5 204.4H55.5" stroke="#333" stroke-width="1.55"/>
<text x="46.7" y="208.7" font-size="13.6" fill="#222" text-anchor="end">0.50</text>
<path d="M50.5 175.4H55.5" stroke="#333" stroke-width="1.55"/>
<text x="46.7" y="179.7" font-size="13.6" fill="#222" text-anchor="end">0.75</text>
<path d="M50.5 146.4H55.5" stroke="#333" stroke-width="1.55"/>
<text x="46.7" y="150.7" font-size="13.6" fill="#222" text-anchor="end">1.00</text>
<rect x="649" y="140.9" width="32.8" height="127.1" fill="#D9D9D9" stroke="#333" stroke-width="1.1"/>
<text transform="translate(658.0 204.45) rotate(90)" font-size="20.4" font-weight="bold" fill="#111" text-anchor="middle">RI scores</text>
<g><path d="M55.5 381.4H648.1" stroke="#EDEDED" stroke-width="0.7"/><path d="M55.5 343.8H648.1" stroke="#EDEDED" stroke-width="0.7"/><path d="M55.5 306.2H648.1" stroke="#EDEDED" stroke-width="0.7"/><path d="M86.48 278.3V404.8" stroke="#EBEBEB" stroke-width="0.7"/><path d="M102.56 278.3V404.8" stroke="#EBEBEB" stroke-width="0.7"/><path d="M118.64 278.3V404.8" stroke="#EBEBEB" stroke-width="0.7"/><path d="M134.72 278.3V404.8" stroke="#EBEBEB" stroke-width="0.7"/><path d="M150.8 278.3V404.8" stroke="#EBEBEB" stroke-width="0.7"/><path d="M166.88 278.3V404.8" stroke="#EBEBEB" stroke-width="0.7"/><path d="M182.96 278.3V404.8" stroke="#EBEBEB" stroke-width="0.7"/><path d="M199.04 278.3V404.8" stroke="#EBEBEB" stroke-width="0.7"/><path d="M215.12 278.3V404.8" stroke="#EBEBEB" stroke-width="0.7"/><path d="M231.2 278.3V404.8" stroke="#EBEBEB" stroke-width="0.7"/><path d="M247.28 278.3V404.8" stroke="#EBEBEB" stroke-width="0.7"/><path d="M263.36 278.3V404.8" stroke="#EBEBEB" stroke-width="0.7"/><path d="M279.44 278.3V404.8" stroke="#EBEBEB" stroke-width="0.7"/><path d="M295.52 278.3V404.8" stroke="#EBEBEB" stroke-width="0.7"/><path d="M311.6 278.3V404.8" stroke="#EBEBEB" stroke-width="0.7"/><path d="M327.68 278.3V404.8" stroke="#EBEBEB" stroke-width="0.7"/><path d="M343.76 278.3V404.8" stroke="#EBEBEB" stroke-width="0.7"/><path d="M359.84 278.3V404.8" stroke="#EBEBEB" stroke-width="0.7"/><path d="M375.92 278.3V404.8" stroke="#EBEBEB" stroke-width="0.7"/><path d="M392 278.3V404.8" stroke="#EBEBEB" stroke-width="0.7"/><path d="M408.08 278.3V404.8" stroke="#EBEBEB" stroke-width="0.7"/><path d="M424.16 278.3V404.8" stroke="#EBEBEB" stroke-width="0.7"/><path d="M440.24 278.3V404.8" stroke="#EBEBEB" stroke-width="0.7"/><path d="M456.32 278.3V404.8" stroke="#EBEBEB" stroke-width="0.7"/><path d="M472.4 278.3V404.8" stroke="#EBEBEB" stroke-width="0.7"/><path d="M488.48 278.3V404.8" stroke="#EBEBEB" stroke-width="0.7"/><path d="M504.56 278.3V404.8" stroke="#EBEBEB" stroke-width="0.7"/><path d="M520.64 278.3V404.8" stroke="#EBEBEB" stroke-width="0.7"/><path d="M536.72 278.3V404.8" stroke="#EBEBEB" stroke-width="0.7"/><path d="M552.8 278.3V404.8" stroke="#EBEBEB" stroke-width="0.7"/><path d="M568.88 278.3V404.8" stroke="#EBEBEB" stroke-width="0.7"/><path d="M584.96 278.3V404.8" stroke="#EBEBEB" stroke-width="0.7"/><path d="M601.04 278.3V404.8" stroke="#EBEBEB" stroke-width="0.7"/><path d="M617.12 278.3V404.8" stroke="#EBEBEB" stroke-width="0.7"/><path d="M633.2 278.3V404.8" stroke="#EBEBEB" stroke-width="0.7"/><path d="M55.5 400.2H648.1" stroke="#E3E3E3" stroke-width="1.2"/><path d="M55.5 362.6H648.1" stroke="#E3E3E3" stroke-width="1.2"/><path d="M55.5 325H648.1" stroke="#E3E3E3" stroke-width="1.2"/><path d="M55.5 287.4H648.1" stroke="#E3E3E3" stroke-width="1.2"/><path d="M70.4 278.3V404.8" stroke="#B0B0B0" stroke-width="1.5"/><path d="M150.8 278.3V404.8" stroke="#B0B0B0" stroke-width="1.5"/><path d="M231.2 278.3V404.8" stroke="#B0B0B0" stroke-width="1.5"/><path d="M311.6 278.3V404.8" stroke="#B0B0B0" stroke-width="1.5"/><path d="M392 278.3V404.8" stroke="#B0B0B0" stroke-width="1.5"/><path d="M472.4 278.3V404.8" stroke="#B0B0B0" stroke-width="1.5"/><path d="M552.8 278.3V404.8" stroke="#B0B0B0" stroke-width="1.5"/><path d="M633.2 278.3V404.8" stroke="#B0B0B0" stroke-width="1.5"/></g>
<g shape-rendering="auto"><rect x="79.24" y="399.75" width="14.47" height="0.45" fill="#C4E67E"/><rect x="79.24" y="399.82" width="14.47" height="0.38" fill="#EE8727"/><rect x="79.24" y="400.05" width="14.47" height="0.15" fill="#CD660B"/><rect x="79.24" y="400.12" width="14.47" height="0.08" fill="#894506"/><rect x="95.32" y="399.75" width="14.47" height="0.45" fill="#C4E67E"/><rect x="95.32" y="399.82" width="14.47" height="0.38" fill="#EE8727"/><rect x="95.32" y="400.05" width="14.47" height="0.15" fill="#CD660B"/><rect x="95.32" y="400.12" width="14.47" height="0.08" fill="#894506"/><rect x="111.4" y="399.52" width="14.47" height="0.68" fill="#C4E67E"/><rect x="111.4" y="399.6" width="14.47" height="0.6" fill="#EE8727"/><rect x="111.4" y="399.82" width="14.47" height="0.38" fill="#CD660B"/><rect x="111.4" y="399.97" width="14.47" height="0.23" fill="#894506"/><rect x="127.48" y="399.22" width="14.47" height="0.98" fill="#C4E67E"/><rect x="127.48" y="399.45" width="14.47" height="0.75" fill="#EE8727"/><rect x="127.48" y="399.75" width="14.47" height="0.45" fill="#CD660B"/><rect x="127.48" y="399.9" width="14.47" height="0.3" fill="#894506"/><rect x="143.56" y="390.72" width="14.47" height="1.23" fill="#C4E67E"/><rect x="143.56" y="390.95" width="14.47" height="1.15" fill="#EE8727"/><rect x="143.56" y="391.1" width="14.47" height="1.08" fill="#CD660B"/><rect x="143.56" y="391.18" width="14.47" height="9.02" fill="#894506"/><rect x="159.64" y="381.55" width="14.47" height="1.68" fill="#C4E67E"/><rect x="159.64" y="382.23" width="14.47" height="1.08" fill="#CD660B"/><rect x="159.64" y="382.3" width="14.47" height="17.9" fill="#894506"/><rect x="175.72" y="386.96" width="14.47" height="2.05" fill="#C4E67E"/><rect x="175.72" y="388.02" width="14.47" height="1.15" fill="#CD660B"/><rect x="175.72" y="388.17" width="14.47" height="12.03" fill="#894506"/><rect x="191.8" y="393.28" width="14.47" height="3.03" fill="#C4E67E"/><rect x="191.8" y="395.31" width="14.47" height="1.23" fill="#A2CF5E"/><rect x="191.8" y="395.54" width="14.47" height="1.08" fill="#CD660B"/><rect x="191.8" y="395.61" width="14.47" height="4.59" fill="#894506"/><rect x="207.88" y="380.72" width="14.47" height="4.23" fill="#C4E67E"/><rect x="207.88" y="383.96" width="14.47" height="1.3" fill="#A2CF5E"/><rect x="207.88" y="384.26" width="14.47" height="1.15" fill="#CD660B"/><rect x="207.88" y="384.41" width="14.47" height="15.79" fill="#894506"/><rect x="223.96" y="383.05" width="14.47" height="3.63" fill="#C4E67E"/><rect x="223.96" y="385.69" width="14.47" height="1.3" fill="#A2CF5E"/><rect x="223.96" y="385.99" width="14.47" height="1.08" fill="#CD660B"/><rect x="223.96" y="386.06" width="14.47" height="14.14" fill="#894506"/><rect x="240.04" y="393.96" width="14.47" height="2.05" fill="#C4E67E"/><rect x="240.04" y="395.01" width="14.47" height="1.08" fill="#A2CF5E"/><rect x="240.04" y="395.09" width="14.47" height="1.08" fill="#CD660B"/><rect x="240.04" y="395.16" width="14.47" height="5.04" fill="#894506"/><rect x="256.12" y="380.95" width="14.47" height="1.23" fill="#C4E67E"/><rect x="256.12" y="381.17" width="14.47" height="10.1" fill="#EE8727"/><rect x="256.12" y="390.27" width="14.47" height="9.93" fill="#894506"/><rect x="272.2" y="368.84" width="14.47" height="1.23" fill="#C4E67E"/><rect x="272.2" y="369.07" width="14.47" height="18.9" fill="#EE8727"/><rect x="272.2" y="386.96" width="14.47" height="13.24" fill="#894506"/><rect x="288.28" y="383.51" width="14.47" height="1.23" fill="#C4E67E"/><rect x="288.28" y="383.73" width="14.47" height="10.32" fill="#EE8727"/><rect x="288.28" y="393.06" width="14.47" height="7.14" fill="#894506"/><rect x="304.36" y="399" width="14.47" height="1.2" fill="#C4E67E"/><rect x="304.36" y="399.22" width="14.47" height="0.98" fill="#894506"/><rect x="320.44" y="399.9" width="14.47" height="0.3" fill="#C4E67E"/><rect x="320.44" y="400.12" width="14.47" height="0.08" fill="#894506"/><rect x="336.52" y="399.9" width="14.47" height="0.3" fill="#C4E67E"/><rect x="336.52" y="400.12" width="14.47" height="0.08" fill="#894506"/><rect x="352.6" y="398.47" width="14.47" height="1.45" fill="#C4E67E"/><rect x="352.6" y="398.92" width="14.47" height="1.15" fill="#F2A02C"/><rect x="352.6" y="399.07" width="14.47" height="1.13" fill="#EE8727"/><rect x="352.6" y="399.6" width="14.47" height="0.6" fill="#CD660B"/><rect x="352.6" y="399.9" width="14.47" height="0.3" fill="#894506"/><rect x="368.68" y="397.12" width="14.47" height="2.13" fill="#C4E67E"/><rect x="368.68" y="398.24" width="14.47" height="1.23" fill="#F2A02C"/><rect x="368.68" y="398.47" width="14.47" height="1.73" fill="#EE8727"/><rect x="368.68" y="399.3" width="14.47" height="0.9" fill="#CD660B"/><rect x="368.68" y="399.82" width="14.47" height="0.38" fill="#894506"/><rect x="384.76" y="395.46" width="14.47" height="2.43" fill="#C4E67E"/><rect x="384.76" y="396.89" width="14.47" height="1.15" fill="#A2CF5E"/><rect x="384.76" y="397.04" width="14.47" height="1.38" fill="#F2A02C"/><rect x="384.76" y="397.42" width="14.47" height="2.13" fill="#EE8727"/><rect x="384.76" y="398.55" width="14.47" height="1.65" fill="#CD660B"/><rect x="384.76" y="399.37" width="14.47" height="0.83" fill="#894506"/><rect x="400.84" y="395.69" width="14.47" height="2.35" fill="#C4E67E"/><rect x="400.84" y="397.04" width="14.47" height="1.15" fill="#A2CF5E"/><rect x="400.84" y="397.19" width="14.47" height="1.3" fill="#F2A02C"/><rect x="400.84" y="397.49" width="14.47" height="2.05" fill="#EE8727"/><rect x="400.84" y="398.55" width="14.47" height="1.65" fill="#CD660B"/><rect x="400.84" y="399.3" width="14.47" height="0.9" fill="#894506"/><rect x="416.92" y="396.89" width="14.47" height="1.53" fill="#C4E67E"/><rect x="416.92" y="397.42" width="14.47" height="1.15" fill="#A2CF5E"/><rect x="416.92" y="397.57" width="14.47" height="1.3" fill="#F2A02C"/><rect x="416.92" y="397.87" width="14.47" height="1.98" fill="#EE8727"/><rect x="416.92" y="398.85" width="14.47" height="1.35" fill="#CD660B"/><rect x="416.92" y="399.37" width="14.47" height="0.83" fill="#894506"/><rect x="433" y="398.7" width="14.47" height="1.3" fill="#C4E67E"/><rect x="433" y="399" width="14.47" height="1.15" fill="#A2CF5E"/><rect x="433" y="399.15" width="14.47" height="1.05" fill="#F2A02C"/><rect x="433" y="399.22" width="14.47" height="0.98" fill="#EE8727"/><rect x="433" y="399.45" width="14.47" height="0.75" fill="#CD660B"/><rect x="433" y="399.67" width="14.47" height="0.53" fill="#894506"/><rect x="449.08" y="398.02" width="14.47" height="1.08" fill="#EBDD30"/><rect x="449.08" y="398.09" width="14.47" height="1.3" fill="#C4E67E"/><rect x="449.08" y="398.4" width="14.47" height="1.3" fill="#A2CF5E"/><rect x="449.08" y="398.7" width="14.47" height="1.15" fill="#F2A02C"/><rect x="449.08" y="398.85" width="14.47" height="1.3" fill="#EE8727"/><rect x="449.08" y="399.15" width="14.47" height="1.05" fill="#CD660B"/><rect x="449.08" y="399.22" width="14.47" height="0.98" fill="#894506"/><rect x="465.16" y="396.89" width="14.47" height="1.08" fill="#EBDD30"/><rect x="465.16" y="396.97" width="14.47" height="1.3" fill="#C4E67E"/><rect x="465.16" y="397.27" width="14.47" height="1.98" fill="#A2CF5E"/><rect x="465.16" y="398.24" width="14.47" height="1.15" fill="#F2A02C"/><rect x="465.16" y="398.4" width="14.47" height="1.3" fill="#EE8727"/><rect x="465.16" y="398.7" width="14.47" height="1.08" fill="#CD660B"/><rect x="465.16" y="398.77" width="14.47" height="1.43" fill="#894506"/><rect x="481.24" y="395.61" width="14.47" height="1.08" fill="#EBDD30"/><rect x="481.24" y="395.69" width="14.47" height="1.15" fill="#C4E67E"/><rect x="481.24" y="395.84" width="14.47" height="2.88" fill="#A2CF5E"/><rect x="481.24" y="397.72" width="14.47" height="1.08" fill="#F2A02C"/><rect x="481.24" y="397.79" width="14.47" height="1.08" fill="#EE8727"/><rect x="481.24" y="397.87" width="14.47" height="1.08" fill="#CD660B"/><rect x="481.24" y="397.94" width="14.47" height="2.26" fill="#894506"/><rect x="497.32" y="395.01" width="14.47" height="1.08" fill="#EBDD30"/><rect x="497.32" y="395.09" width="14.47" height="1.45" fill="#C4E67E"/><rect x="497.32" y="395.54" width="14.47" height="3.56" fill="#A2CF5E"/><rect x="497.32" y="398.09" width="14.47" height="1.15" fill="#F2A02C"/><rect x="497.32" y="398.24" width="14.47" height="1.15" fill="#EE8727"/><rect x="497.32" y="398.4" width="14.47" height="1.08" fill="#CD660B"/><rect x="497.32" y="398.47" width="14.47" height="1.73" fill="#894506"/><rect x="513.4" y="394.18" width="14.47" height="1.08" fill="#EBDD30"/><rect x="513.4" y="394.26" width="14.47" height="1.45" fill="#C4E67E"/><rect x="513.4" y="394.71" width="14.47" height="3.56" fill="#A2CF5E"/><rect x="513.4" y="397.27" width="14.47" height="1.15" fill="#F2A02C"/><rect x="513.4" y="397.42" width="14.47" height="1.23" fill="#EE8727"/><rect x="513.4" y="397.64" width="14.47" height="1.08" fill="#CD660B"/><rect x="513.4" y="397.72" width="14.47" height="2.48" fill="#894506"/><rect x="529.48" y="377.11" width="14.47" height="1.15" fill="#EBDD30"/><rect x="529.48" y="377.26" width="14.47" height="1.38" fill="#C4E67E"/><rect x="529.48" y="377.64" width="14.47" height="6.11" fill="#A2CF5E"/><rect x="529.48" y="382.75" width="14.47" height="2.13" fill="#F2A02C"/><rect x="529.48" y="383.88" width="14.47" height="1.53" fill="#EE8727"/><rect x="529.48" y="384.41" width="14.47" height="1.08" fill="#CD660B"/><rect x="529.48" y="384.48" width="14.47" height="15.72" fill="#894506"/><rect x="545.56" y="360.87" width="14.47" height="1.38" fill="#EBDD30"/><rect x="545.56" y="361.25" width="14.47" height="2.35" fill="#C4E67E"/><rect x="545.56" y="362.6" width="14.47" height="5.96" fill="#A2CF5E"/><rect x="545.56" y="367.56" width="14.47" height="3.18" fill="#F2A02C"/><rect x="545.56" y="369.74" width="14.47" height="1.6" fill="#EE8727"/><rect x="545.56" y="370.35" width="14.47" height="1.15" fill="#CD660B"/><rect x="545.56" y="370.5" width="14.47" height="29.7" fill="#894506"/><rect x="561.64" y="362.22" width="14.47" height="1.38" fill="#EBDD30"/><rect x="561.64" y="362.6" width="14.47" height="2.2" fill="#C4E67E"/><rect x="561.64" y="363.8" width="14.47" height="6.87" fill="#A2CF5E"/><rect x="561.64" y="369.67" width="14.47" height="3.26" fill="#F2A02C"/><rect x="561.64" y="371.92" width="14.47" height="1.45" fill="#EE8727"/><rect x="561.64" y="372.38" width="14.47" height="1.15" fill="#CD660B"/><rect x="561.64" y="372.53" width="14.47" height="27.67" fill="#894506"/><rect x="577.72" y="309.21" width="14.47" height="2.8" fill="#EBDD30"/><rect x="577.72" y="311.01" width="14.47" height="15.29" fill="#C4E67E"/><rect x="577.72" y="325.3" width="14.47" height="38.07" fill="#A2CF5E"/><rect x="577.72" y="362.37" width="14.47" height="1.3" fill="#F2A02C"/><rect x="577.72" y="362.68" width="14.47" height="1.38" fill="#EE8727"/><rect x="577.72" y="363.05" width="14.47" height="1.15" fill="#CD660B"/><rect x="577.72" y="363.2" width="14.47" height="37" fill="#894506"/><rect x="593.8" y="287.4" width="14.47" height="2.96" fill="#EBDD30"/><rect x="593.8" y="289.36" width="14.47" height="22.36" fill="#C4E67E"/><rect x="593.8" y="310.71" width="14.47" height="51.53" fill="#A2CF5E"/><rect x="593.8" y="361.25" width="14.47" height="1.08" fill="#F2A02C"/><rect x="593.8" y="361.32" width="14.47" height="1.08" fill="#EE8727"/><rect x="593.8" y="361.4" width="14.47" height="1.08" fill="#CD660B"/><rect x="593.8" y="361.47" width="14.47" height="38.73" fill="#894506"/><rect x="609.88" y="317.71" width="14.47" height="2.96" fill="#EBDD30"/><rect x="609.88" y="319.66" width="14.47" height="18" fill="#C4E67E"/><rect x="609.88" y="336.66" width="14.47" height="40.18" fill="#A2CF5E"/><rect x="609.88" y="375.84" width="14.47" height="1.08" fill="#F2A02C"/><rect x="609.88" y="375.91" width="14.47" height="1.08" fill="#EE8727"/><rect x="609.88" y="375.99" width="14.47" height="1.08" fill="#CD660B"/><rect x="609.88" y="376.06" width="14.47" height="24.14" fill="#894506"/><rect x="625.96" y="399.82" width="14.47" height="0.38" fill="#EBDD30"/><rect x="625.96" y="399.86" width="14.47" height="0.34" fill="#C4E67E"/><rect x="625.96" y="399.97" width="14.47" height="0.23" fill="#A2CF5E"/><rect x="625.96" y="400.09" width="14.47" height="0.11" fill="#F2A02C"/><rect x="625.96" y="400.11" width="14.47" height="0.09" fill="#EE8727"/><rect x="625.96" y="400.12" width="14.47" height="0.08" fill="#894506"/></g>
<rect x="55.5" y="278.3" width="592.6" height="126.5" fill="none" stroke="#333" stroke-width="1.1"/>
<path d="M50.5 400.2H55.5" stroke="#333" stroke-width="1.55"/>
<text x="46.7" y="404.5" font-size="13.6" fill="#222" text-anchor="end">0</text>
<path d="M50.5 362.6H55.5" stroke="#333" stroke-width="1.55"/>
<text x="46.7" y="366.9" font-size="13.6" fill="#222" text-anchor="end">50000</text>
<path d="M50.5 325H55.5" stroke="#333" stroke-width="1.55"/>
<text x="46.7" y="329.3" font-size="13.6" fill="#222" text-anchor="end">100000</text>
<path d="M50.5 287.4H55.5" stroke="#333" stroke-width="1.55"/>
<text x="46.7" y="291.7" font-size="13.6" fill="#222" text-anchor="end">150000</text>
<rect x="649" y="278.3" width="32.8" height="126.5" fill="#D9D9D9" stroke="#333" stroke-width="1.1"/>
<text transform="translate(658.0 341.55) rotate(90)" font-size="20.4" font-weight="bold" fill="#111" text-anchor="middle">counts</text>
<g><path d="M55.5 479.25H648.1" stroke="#EDEDED" stroke-width="0.7"/><path d="M86.48 415.6V542.7" stroke="#EBEBEB" stroke-width="0.7"/><path d="M102.56 415.6V542.7" stroke="#EBEBEB" stroke-width="0.7"/><path d="M118.64 415.6V542.7" stroke="#EBEBEB" stroke-width="0.7"/><path d="M134.72 415.6V542.7" stroke="#EBEBEB" stroke-width="0.7"/><path d="M150.8 415.6V542.7" stroke="#EBEBEB" stroke-width="0.7"/><path d="M166.88 415.6V542.7" stroke="#EBEBEB" stroke-width="0.7"/><path d="M182.96 415.6V542.7" stroke="#EBEBEB" stroke-width="0.7"/><path d="M199.04 415.6V542.7" stroke="#EBEBEB" stroke-width="0.7"/><path d="M215.12 415.6V542.7" stroke="#EBEBEB" stroke-width="0.7"/><path d="M231.2 415.6V542.7" stroke="#EBEBEB" stroke-width="0.7"/><path d="M247.28 415.6V542.7" stroke="#EBEBEB" stroke-width="0.7"/><path d="M263.36 415.6V542.7" stroke="#EBEBEB" stroke-width="0.7"/><path d="M279.44 415.6V542.7" stroke="#EBEBEB" stroke-width="0.7"/><path d="M295.52 415.6V542.7" stroke="#EBEBEB" stroke-width="0.7"/><path d="M311.6 415.6V542.7" stroke="#EBEBEB" stroke-width="0.7"/><path d="M327.68 415.6V542.7" stroke="#EBEBEB" stroke-width="0.7"/><path d="M343.76 415.6V542.7" stroke="#EBEBEB" stroke-width="0.7"/><path d="M359.84 415.6V542.7" stroke="#EBEBEB" stroke-width="0.7"/><path d="M375.92 415.6V542.7" stroke="#EBEBEB" stroke-width="0.7"/><path d="M392 415.6V542.7" stroke="#EBEBEB" stroke-width="0.7"/><path d="M408.08 415.6V542.7" stroke="#EBEBEB" stroke-width="0.7"/><path d="M424.16 415.6V542.7" stroke="#EBEBEB" stroke-width="0.7"/><path d="M440.24 415.6V542.7" stroke="#EBEBEB" stroke-width="0.7"/><path d="M456.32 415.6V542.7" stroke="#EBEBEB" stroke-width="0.7"/><path d="M472.4 415.6V542.7" stroke="#EBEBEB" stroke-width="0.7"/><path d="M488.48 415.6V542.7" stroke="#EBEBEB" stroke-width="0.7"/><path d="M504.56 415.6V542.7" stroke="#EBEBEB" stroke-width="0.7"/><path d="M520.64 415.6V542.7" stroke="#EBEBEB" stroke-width="0.7"/><path d="M536.72 415.6V542.7" stroke="#EBEBEB" stroke-width="0.7"/><path d="M552.8 415.6V542.7" stroke="#EBEBEB" stroke-width="0.7"/><path d="M568.88 415.6V542.7" stroke="#EBEBEB" stroke-width="0.7"/><path d="M584.96 415.6V542.7" stroke="#EBEBEB" stroke-width="0.7"/><path d="M601.04 415.6V542.7" stroke="#EBEBEB" stroke-width="0.7"/><path d="M617.12 415.6V542.7" stroke="#EBEBEB" stroke-width="0.7"/><path d="M633.2 415.6V542.7" stroke="#EBEBEB" stroke-width="0.7"/><path d="M55.5 537.2H648.1" stroke="#E3E3E3" stroke-width="1.2"/><path d="M55.5 421.3H648.1" stroke="#E3E3E3" stroke-width="1.2"/><path d="M70.4 415.6V542.7" stroke="#B0B0B0" stroke-width="1.5"/><path d="M150.8 415.6V542.7" stroke="#B0B0B0" stroke-width="1.5"/><path d="M231.2 415.6V542.7" stroke="#B0B0B0" stroke-width="1.5"/><path d="M311.6 415.6V542.7" stroke="#B0B0B0" stroke-width="1.5"/><path d="M392 415.6V542.7" stroke="#B0B0B0" stroke-width="1.5"/><path d="M472.4 415.6V542.7" stroke="#B0B0B0" stroke-width="1.5"/><path d="M552.8 415.6V542.7" stroke="#B0B0B0" stroke-width="1.5"/><path d="M633.2 415.6V542.7" stroke="#B0B0B0" stroke-width="1.5"/></g>
<g shape-rendering="auto"><rect x="95.32" y="507.18" width="14.47" height="30.02" fill="#7F7F7F"/><rect x="111.4" y="513.9" width="14.47" height="23.3" fill="#7F7F7F"/><rect x="127.48" y="515.94" width="14.47" height="21.26" fill="#7F7F7F"/><rect x="143.56" y="515.06" width="14.47" height="22.14" fill="#7F7F7F"/><rect x="159.64" y="499.07" width="14.47" height="38.13" fill="#7F7F7F"/><rect x="175.72" y="501.04" width="14.47" height="36.16" fill="#7F7F7F"/><rect x="191.8" y="520.05" width="14.47" height="17.15" fill="#7F7F7F"/><rect x="207.88" y="520.05" width="14.47" height="17.15" fill="#7F7F7F"/><rect x="223.96" y="508.64" width="14.47" height="28.56" fill="#7F7F7F"/><rect x="240.04" y="441.47" width="14.47" height="95.73" fill="#7F7F7F"/><rect x="256.12" y="432.31" width="14.47" height="104.89" fill="#7F7F7F"/><rect x="272.2" y="474.5" width="14.47" height="62.7" fill="#7F7F7F"/><rect x="288.28" y="452.01" width="14.47" height="85.19" fill="#7F7F7F"/><rect x="304.36" y="478.55" width="14.47" height="58.65" fill="#7F7F7F"/><rect x="368.68" y="511.28" width="14.47" height="25.92" fill="#7F7F7F"/><rect x="384.76" y="504.86" width="14.47" height="32.34" fill="#7F7F7F"/><rect x="400.84" y="515.64" width="14.47" height="21.56" fill="#7F7F7F"/><rect x="416.92" y="515.64" width="14.47" height="21.56" fill="#7F7F7F"/><rect x="449.08" y="499.6" width="14.47" height="37.6" fill="#7F7F7F"/><rect x="465.16" y="497.84" width="14.47" height="39.36" fill="#7F7F7F"/><rect x="481.24" y="500.76" width="14.47" height="36.44" fill="#7F7F7F"/><rect x="497.32" y="502.52" width="14.47" height="34.68" fill="#7F7F7F"/><rect x="513.4" y="504.56" width="14.47" height="32.64" fill="#7F7F7F"/><rect x="529.48" y="464.88" width="14.47" height="72.32" fill="#7F7F7F"/><rect x="545.56" y="476.82" width="14.47" height="60.38" fill="#7F7F7F"/><rect x="561.64" y="485.88" width="14.47" height="51.32" fill="#7F7F7F"/><rect x="577.72" y="467.47" width="14.47" height="69.73" fill="#7F7F7F"/><rect x="593.8" y="469.82" width="14.47" height="67.38" fill="#7F7F7F"/><rect x="609.88" y="473.69" width="14.47" height="63.51" fill="#7F7F7F"/></g>
<rect x="55.5" y="415.6" width="592.6" height="127.1" fill="none" stroke="#333" stroke-width="1.1"/>
<path d="M50.5 537.2H55.5" stroke="#333" stroke-width="1.55"/>
<text x="46.7" y="541.5" font-size="13.6" fill="#222" text-anchor="end">0</text>
<path d="M50.5 421.3H55.5" stroke="#333" stroke-width="1.55"/>
<text x="46.7" y="425.6" font-size="13.6" fill="#222" text-anchor="end">5</text>
<rect x="649" y="415.6" width="32.8" height="127.1" fill="#D9D9D9" stroke="#333" stroke-width="1.1"/>
<text transform="translate(658.0 479.15) rotate(90)" font-size="20.4" font-weight="bold" fill="#111" text-anchor="middle">mass finds</text>
<g><path d="M55.5 655.48H648.1" stroke="#EDEDED" stroke-width="0.7"/><path d="M55.5 616.62H648.1" stroke="#EDEDED" stroke-width="0.7"/><path d="M55.5 577.77H648.1" stroke="#EDEDED" stroke-width="0.7"/><path d="M86.48 553.2V680.6" stroke="#EBEBEB" stroke-width="0.7"/><path d="M102.56 553.2V680.6" stroke="#EBEBEB" stroke-width="0.7"/><path d="M118.64 553.2V680.6" stroke="#EBEBEB" stroke-width="0.7"/><path d="M134.72 553.2V680.6" stroke="#EBEBEB" stroke-width="0.7"/><path d="M150.8 553.2V680.6" stroke="#EBEBEB" stroke-width="0.7"/><path d="M166.88 553.2V680.6" stroke="#EBEBEB" stroke-width="0.7"/><path d="M182.96 553.2V680.6" stroke="#EBEBEB" stroke-width="0.7"/><path d="M199.04 553.2V680.6" stroke="#EBEBEB" stroke-width="0.7"/><path d="M215.12 553.2V680.6" stroke="#EBEBEB" stroke-width="0.7"/><path d="M231.2 553.2V680.6" stroke="#EBEBEB" stroke-width="0.7"/><path d="M247.28 553.2V680.6" stroke="#EBEBEB" stroke-width="0.7"/><path d="M263.36 553.2V680.6" stroke="#EBEBEB" stroke-width="0.7"/><path d="M279.44 553.2V680.6" stroke="#EBEBEB" stroke-width="0.7"/><path d="M295.52 553.2V680.6" stroke="#EBEBEB" stroke-width="0.7"/><path d="M311.6 553.2V680.6" stroke="#EBEBEB" stroke-width="0.7"/><path d="M327.68 553.2V680.6" stroke="#EBEBEB" stroke-width="0.7"/><path d="M343.76 553.2V680.6" stroke="#EBEBEB" stroke-width="0.7"/><path d="M359.84 553.2V680.6" stroke="#EBEBEB" stroke-width="0.7"/><path d="M375.92 553.2V680.6" stroke="#EBEBEB" stroke-width="0.7"/><path d="M392 553.2V680.6" stroke="#EBEBEB" stroke-width="0.7"/><path d="M408.08 553.2V680.6" stroke="#EBEBEB" stroke-width="0.7"/><path d="M424.16 553.2V680.6" stroke="#EBEBEB" stroke-width="0.7"/><path d="M440.24 553.2V680.6" stroke="#EBEBEB" stroke-width="0.7"/><path d="M456.32 553.2V680.6" stroke="#EBEBEB" stroke-width="0.7"/><path d="M472.4 553.2V680.6" stroke="#EBEBEB" stroke-width="0.7"/><path d="M488.48 553.2V680.6" stroke="#EBEBEB" stroke-width="0.7"/><path d="M504.56 553.2V680.6" stroke="#EBEBEB" stroke-width="0.7"/><path d="M520.64 553.2V680.6" stroke="#EBEBEB" stroke-width="0.7"/><path d="M536.72 553.2V680.6" stroke="#EBEBEB" stroke-width="0.7"/><path d="M552.8 553.2V680.6" stroke="#EBEBEB" stroke-width="0.7"/><path d="M568.88 553.2V680.6" stroke="#EBEBEB" stroke-width="0.7"/><path d="M584.96 553.2V680.6" stroke="#EBEBEB" stroke-width="0.7"/><path d="M601.04 553.2V680.6" stroke="#EBEBEB" stroke-width="0.7"/><path d="M617.12 553.2V680.6" stroke="#EBEBEB" stroke-width="0.7"/><path d="M633.2 553.2V680.6" stroke="#EBEBEB" stroke-width="0.7"/><path d="M55.5 674.9H648.1" stroke="#E3E3E3" stroke-width="1.2"/><path d="M55.5 636.05H648.1" stroke="#E3E3E3" stroke-width="1.2"/><path d="M55.5 597.2H648.1" stroke="#E3E3E3" stroke-width="1.2"/><path d="M55.5 558.35H648.1" stroke="#E3E3E3" stroke-width="1.2"/><path d="M70.4 553.2V680.6" stroke="#B0B0B0" stroke-width="1.5"/><path d="M150.8 553.2V680.6" stroke="#B0B0B0" stroke-width="1.5"/><path d="M231.2 553.2V680.6" stroke="#B0B0B0" stroke-width="1.5"/><path d="M311.6 553.2V680.6" stroke="#B0B0B0" stroke-width="1.5"/><path d="M392 553.2V680.6" stroke="#B0B0B0" stroke-width="1.5"/><path d="M472.4 553.2V680.6" stroke="#B0B0B0" stroke-width="1.5"/><path d="M552.8 553.2V680.6" stroke="#B0B0B0" stroke-width="1.5"/><path d="M633.2 553.2V680.6" stroke="#B0B0B0" stroke-width="1.5"/></g>
<g shape-rendering="auto"><rect x="79.24" y="659.36" width="14.47" height="15.54" fill="#7F7F7F"/><rect x="95.32" y="659.36" width="14.47" height="15.54" fill="#7F7F7F"/><rect x="111.4" y="651.59" width="14.47" height="23.31" fill="#7F7F7F"/><rect x="127.48" y="643.82" width="14.47" height="31.08" fill="#7F7F7F"/><rect x="143.56" y="628.28" width="14.47" height="46.62" fill="#7F7F7F"/><rect x="159.64" y="636.05" width="14.47" height="38.85" fill="#7F7F7F"/><rect x="175.72" y="604.97" width="14.47" height="69.93" fill="#7F7F7F"/><rect x="191.8" y="589.43" width="14.47" height="85.47" fill="#7F7F7F"/><rect x="207.88" y="597.2" width="14.47" height="77.7" fill="#7F7F7F"/><rect x="223.96" y="604.97" width="14.47" height="69.93" fill="#7F7F7F"/><rect x="240.04" y="604.97" width="14.47" height="69.93" fill="#7F7F7F"/><rect x="256.12" y="620.51" width="14.47" height="54.39" fill="#7F7F7F"/><rect x="272.2" y="636.05" width="14.47" height="38.85" fill="#7F7F7F"/><rect x="288.28" y="643.82" width="14.47" height="31.08" fill="#7F7F7F"/><rect x="304.36" y="651.59" width="14.47" height="23.31" fill="#7F7F7F"/><rect x="320.44" y="659.36" width="14.47" height="15.54" fill="#7F7F7F"/><rect x="336.52" y="659.36" width="14.47" height="15.54" fill="#7F7F7F"/><rect x="352.6" y="604.97" width="14.47" height="69.93" fill="#7F7F7F"/><rect x="368.68" y="597.2" width="14.47" height="77.7" fill="#7F7F7F"/><rect x="384.76" y="589.43" width="14.47" height="85.47" fill="#7F7F7F"/><rect x="400.84" y="589.43" width="14.47" height="85.47" fill="#7F7F7F"/><rect x="416.92" y="589.43" width="14.47" height="85.47" fill="#7F7F7F"/><rect x="433" y="628.28" width="14.47" height="46.62" fill="#7F7F7F"/><rect x="449.08" y="651.59" width="14.47" height="23.31" fill="#7F7F7F"/><rect x="465.16" y="636.05" width="14.47" height="38.85" fill="#7F7F7F"/><rect x="481.24" y="651.59" width="14.47" height="23.31" fill="#7F7F7F"/><rect x="497.32" y="636.05" width="14.47" height="38.85" fill="#7F7F7F"/><rect x="513.4" y="628.28" width="14.47" height="46.62" fill="#7F7F7F"/><rect x="529.48" y="604.97" width="14.47" height="69.93" fill="#7F7F7F"/><rect x="545.56" y="597.2" width="14.47" height="77.7" fill="#7F7F7F"/><rect x="561.64" y="589.43" width="14.47" height="85.47" fill="#7F7F7F"/><rect x="577.72" y="597.2" width="14.47" height="77.7" fill="#7F7F7F"/><rect x="593.8" y="612.74" width="14.47" height="62.16" fill="#7F7F7F"/><rect x="609.88" y="628.28" width="14.47" height="46.62" fill="#7F7F7F"/><rect x="625.96" y="651.59" width="14.47" height="23.31" fill="#7F7F7F"/></g>
<rect x="55.5" y="553.2" width="592.6" height="127.4" fill="none" stroke="#333" stroke-width="1.1"/>
<path d="M50.5 674.9H55.5" stroke="#333" stroke-width="1.55"/>
<text x="46.7" y="679.2" font-size="13.6" fill="#222" text-anchor="end">0</text>
<path d="M50.5 636.05H55.5" stroke="#333" stroke-width="1.55"/>
<text x="46.7" y="640.35" font-size="13.6" fill="#222" text-anchor="end">5</text>
<path d="M50.5 597.2H55.5" stroke="#333" stroke-width="1.55"/>
<text x="46.7" y="601.5" font-size="13.6" fill="#222" text-anchor="end">10</text>
<path d="M50.5 558.35H55.5" stroke="#333" stroke-width="1.55"/>
<text x="46.7" y="562.65" font-size="13.6" fill="#222" text-anchor="end">15</text>
<rect x="649" y="553.2" width="32.8" height="127.4" fill="#D9D9D9" stroke="#333" stroke-width="1.1"/>
<text transform="translate(658.0 616.9) rotate(90)" font-size="20.4" font-weight="bold" fill="#111" text-anchor="middle">sites</text>
<path d="M70.4 680.6V685" stroke="#333" stroke-width="1.55"/>
<text x="70.1" y="701.4" font-size="16.8" fill="#222" text-anchor="middle">-4000</text>
<path d="M150.8 680.6V685" stroke="#333" stroke-width="1.55"/>
<text x="150.5" y="701.4" font-size="16.8" fill="#222" text-anchor="middle">-3500</text>
<path d="M231.2 680.6V685" stroke="#333" stroke-width="1.55"/>
<text x="230.9" y="701.4" font-size="16.8" fill="#222" text-anchor="middle">-3000</text>
<path d="M311.6 680.6V685" stroke="#333" stroke-width="1.55"/>
<text x="311.3" y="701.4" font-size="16.8" fill="#222" text-anchor="middle">-2500</text>
<path d="M392 680.6V685" stroke="#333" stroke-width="1.55"/>
<text x="391.7" y="701.4" font-size="16.8" fill="#222" text-anchor="middle">-2000</text>
<path d="M472.4 680.6V685" stroke="#333" stroke-width="1.55"/>
<text x="472.1" y="701.4" font-size="16.8" fill="#222" text-anchor="middle">-1500</text>
<path d="M552.8 680.6V685" stroke="#333" stroke-width="1.55"/>
<text x="552.5" y="701.4" font-size="16.8" fill="#222" text-anchor="middle">-1000</text>
<path d="M633.2 680.6V685" stroke="#333" stroke-width="1.55"/>
<text x="632.9" y="701.4" font-size="16.8" fill="#222" text-anchor="middle">-500</text>
<text x="351.6" y="723.6" font-size="20.4" font-weight="bold" fill="#000" text-anchor="middle">Age BCE</text>
<rect x="36.17" y="755.83" width="23.75" height="15.15" fill="#EBDD30" stroke="#0A0A0A" stroke-width="1.75" stroke-linejoin="round"/>
<text x="69.2" y="769.85" font-size="16.95" fill="#111">broomcorn millet</text>
<rect x="36.17" y="783.38" width="23.75" height="15.15" fill="#EE8727" stroke="#0A0A0A" stroke-width="1.75" stroke-linejoin="round"/>
<text x="69.2" y="796.85" font-size="16.95" fill="#111">free-threshing wheat</text>
<rect x="257.27" y="755.83" width="23.75" height="15.15" fill="#C4E67E" stroke="#0A0A0A" stroke-width="1.75" stroke-linejoin="round"/>
<text x="290.3" y="769.85" font-size="16.95" fill="#111">naked barley</text>
<rect x="257.27" y="783.38" width="23.75" height="15.15" fill="#CD660B" stroke="#0A0A0A" stroke-width="1.75" stroke-linejoin="round"/>
<text x="290.3" y="796.85" font-size="16.95" fill="#111">einkorn</text>
<rect x="420.98" y="755.83" width="23.75" height="15.15" fill="#A2CF5E" stroke="#0A0A0A" stroke-width="1.75" stroke-linejoin="round"/>
<text x="454" y="769.85" font-size="16.95" fill="#111">hulled barley</text>
<rect x="420.98" y="783.38" width="23.75" height="15.15" fill="#894506" stroke="#0A0A0A" stroke-width="1.75" stroke-linejoin="round"/>
<text x="454" y="796.85" font-size="16.95" fill="#111">emmer</text>
<rect x="583.77" y="755.83" width="23.75" height="15.15" fill="#F2A02C" stroke="#0A0A0A" stroke-width="1.75" stroke-linejoin="round"/>
<text x="616.8" y="769.85" font-size="16.95" fill="#111">spelt</text>
</svg>
</body></html>
